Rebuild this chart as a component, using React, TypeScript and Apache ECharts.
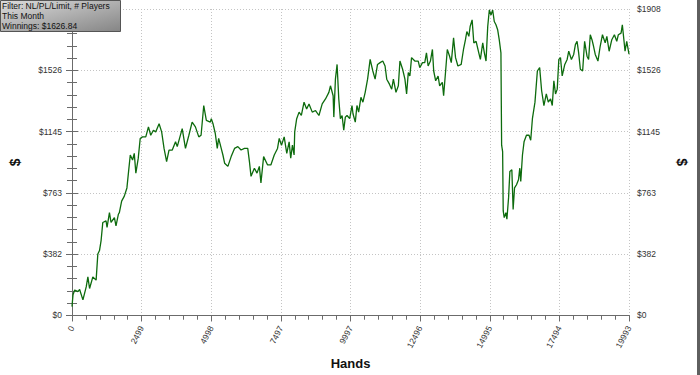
import React, { useEffect, useRef } from "react";
import * as echarts from "echarts";

const handsMax = 19993;
const dollarsMax = 1908;

const hands = [
  0, 36, 96, 214, 274, 392, 510, 570, 631, 748, 866, 927, 987, 1044, 1105, 1222, 1258, 1344, 1401, 1522,
  1579, 1664, 1700, 1782, 1878, 1971, 2031, 2092, 2174, 2235, 2292, 2377, 2448, 2530, 2648, 2744, 2826, 2922,
  3004, 3126, 3218, 3304, 3396, 3482, 3599, 3717, 3778, 3956, 4073, 4195, 4312, 4430, 4551, 4633, 4729, 4822,
  4964, 5000, 5061, 5143, 5214, 5264, 5356, 5417, 5478, 5595, 5713, 5834, 5952, 6069, 6190, 6308, 6369, 6426,
  6547, 6640, 6725, 6782, 6878, 7021, 7138, 7260, 7377, 7438, 7520, 7616, 7709, 7794, 7851, 7912, 7972, 7994,
  8065, 8151, 8232, 8329, 8422, 8507, 8624, 8742, 8863, 8981, 9099, 9220, 9277, 9373, 9398, 9455, 9515, 9576,
  9633, 9694, 9754, 9811, 9872, 9968, 10050, 10086, 10168, 10228, 10289, 10371, 10442, 10524, 10610, 10702,
  10798, 10880, 10966, 11059, 11155, 11237, 11297, 11394, 11475, 11536, 11629, 11714, 11771, 11867, 11950,
  12010, 12071, 12128, 12188, 12306, 12427, 12484, 12580, 12662, 12723, 12783, 12865, 12937, 12983, 13054,
  13140, 13197, 13293, 13339, 13411, 13471, 13553, 13614, 13696, 13767, 13852, 13970, 14052, 14123, 14173,
  14245, 14291, 14362, 14423, 14505, 14601, 14658, 14743, 14801, 14861, 14922, 14979, 15040, 15100, 15157,
  15218, 15278, 15335, 15396, 15421, 15457, 15478, 15514, 15574, 15610, 15670, 15717, 15788, 15834, 15884,
  15955, 16026, 16073, 16108, 16169, 16226, 16312, 16405, 16465, 16526, 16618, 16704, 16786, 16857, 16939,
  17025, 17096, 17178, 17239, 17296, 17356, 17417, 17474, 17534, 17595, 17688, 17773, 17830, 17926, 18008,
  18069, 18129, 18186, 18247, 18329, 18400, 18486, 18543, 18603, 18664, 18721, 18782, 18878, 18959, 19041,
  19138, 19198, 19280, 19376, 19469, 19554, 19611, 19708, 19754, 19815, 19851, 19911, 19993,
];

const winnings = [
  55, 129, 158, 148, 162, 97, 178, 240, 168, 240, 220, 383, 404, 466, 579, 589, 548, 640, 579, 609,
  558, 630, 640, 712, 743, 794, 897, 999, 968, 1009, 886, 978, 1102, 1112, 1112, 1174, 1122, 1153,
  1143, 1194, 1143, 1040, 958, 1030, 1030, 1081, 1051, 1163, 1040, 1122, 1204, 1174, 1112, 1122, 1307, 1214,
  1204, 1225, 1194, 1133, 1040, 1102, 1040, 999, 948, 928, 989, 1040, 1051, 1030, 1040, 1040, 958, 866,
  917, 886, 928, 825, 989, 937, 937, 999, 1040, 1102, 1060, 1112, 1009, 1081, 979, 1060, 999, 1143,
  1225, 1266, 1245, 1328, 1286, 1317, 1266, 1276, 1245, 1317, 1348, 1389, 1430, 1368, 1235, 1471, 1563, 1348,
  1225, 1245, 1153, 1235, 1245, 1225, 1307, 1256, 1204, 1307, 1266, 1358, 1328, 1389, 1471, 1594,
  1522, 1471, 1563, 1574, 1584, 1553, 1471, 1440, 1409, 1471, 1389, 1430, 1584, 1533, 1471,
  1379, 1512, 1491, 1605, 1584, 1584, 1543, 1574, 1574, 1635, 1553, 1584, 1656, 1522, 1461,
  1491, 1430, 1451, 1368, 1522, 1656, 1614, 1574, 1728, 1605, 1553, 1563, 1656, 1717, 1768,
  1738, 1799, 1840, 1697, 1707, 1635, 1594, 1697, 1635, 1584, 1799, 1902, 1871, 1902, 1830,
  1810, 1779, 1717, 1635, 1060, 1020, 651, 609, 640, 599, 732, 897, 907, 660, 794,
  814, 845, 917, 835, 999, 1081, 1122, 1122, 1091, 1225, 1328, 1522, 1543, 1399, 1307,
  1379, 1328, 1348, 1307, 1461, 1379, 1409, 1594, 1605, 1491, 1563, 1594, 1645, 1594, 1625,
  1686, 1707, 1635, 1533, 1522, 1707, 1614, 1594, 1748, 1717, 1676, 1625, 1584, 1676, 1748,
  1697, 1738, 1645, 1717, 1748, 1707, 1748, 1758, 1810, 1707, 1645, 1707, 1626.84,
];

const infoLines = ["Filter: NL/PL/Limit, # Players", "This Month", "Winnings: $1626.84"];
const xName = "Hands";
const yName = "$";

const FONT = "'Liberation Sans', Arial, sans-serif";

export default function App() {
  const ref = useRef<HTMLDivElement>(null);

  useEffect(() => {
    if (!ref.current) return;
    const chart = echarts.init(ref.current, undefined, { renderer: "svg" });
    const data = hands.map((h, i) => [h, winnings[i]]);
    const xInterval = handsMax / 8;
    const yInterval = dollarsMax / 5;
    const axisLineColor = "#6b6b6b";
    const gridLine = { show: true, lineStyle: { color: "#c4c4c4", type: [1, 2] as any, width: 1 } };

    const infoTexts = infoLines.map((t, i) => ({
      type: "text",
      left: 2,
      top: 1 + i * 10,
      style: { text: t, fontFamily: FONT, fontSize: 8.5, fill: "#111" },
      z: 101,
    }));

    chart.setOption({
      animation: false,
      backgroundColor: "#ffffff",
      grid: { left: 68, right: 71, top: 9, bottom: 56, containLabel: false },
      xAxis: [
        {
          type: "value",
          position: "bottom",
          min: 0,
          max: handsMax,
          interval: xInterval,
          name: xName,
          nameLocation: "middle",
          nameGap: 41,
          nameTextStyle: { fontFamily: FONT, fontSize: 13, fontWeight: "bold", color: "#111" },
          axisLine: { show: true, lineStyle: { color: axisLineColor, width: 1 } },
          axisTick: { show: true, inside: false, length: 6, lineStyle: { color: axisLineColor } },
          minorTick: { show: true, splitNumber: 5, length: 4, lineStyle: { color: axisLineColor } },
          axisLabel: {
            show: true,
            rotate: 62,
            margin: 11,
            fontFamily: FONT,
            fontSize: 8.5,
            color: "#333",
            showMinLabel: true,
            showMaxLabel: true,
            formatter: (v: number) => String(Math.round(v)),
          },
          splitLine: gridLine,
        },
        {
          type: "value",
          position: "top",
          min: 0,
          max: handsMax,
          interval: xInterval,
          axisLine: { show: true, lineStyle: { color: axisLineColor, width: 1 } },
          axisTick: { show: true, inside: true, length: 4, lineStyle: { color: axisLineColor } },
          minorTick: { show: true, splitNumber: 5, length: 4, lineStyle: { color: axisLineColor } },
          axisLabel: { show: false },
          splitLine: { show: false },
        },
      ],
      yAxis: [
        {
          type: "value",
          position: "left",
          min: 0,
          max: dollarsMax,
          interval: yInterval,
          name: yName,
          nameLocation: "middle",
          nameGap: 50,
          nameRotate: 90,
          nameTextStyle: { fontFamily: FONT, fontSize: 14, fontWeight: "bold", color: "#111" },
          axisLine: { show: true, lineStyle: { color: axisLineColor, width: 1 } },
          axisTick: { show: true, inside: false, length: 6, lineStyle: { color: axisLineColor } },
          minorTick: { show: true, splitNumber: 5, length: 5, lineStyle: { color: axisLineColor } },
          axisLabel: {
            show: true,
            margin: 10,
            fontFamily: FONT,
            fontSize: 8.5,
            color: "#333",
            showMaxLabel: false,
            formatter: (v: number) => (v >= dollarsMax ? "" : "$" + Math.round(v)),
          },
          splitLine: gridLine,
        },
        {
          type: "value",
          position: "right",
          min: 0,
          max: dollarsMax,
          interval: yInterval,
          name: yName,
          nameLocation: "middle",
          nameGap: 46,
          nameRotate: -90,
          nameTextStyle: { fontFamily: FONT, fontSize: 14, fontWeight: "bold", color: "#111" },
          axisLine: { show: true, lineStyle: { color: axisLineColor, width: 1 } },
          axisTick: { show: true, inside: false, length: 6, lineStyle: { color: axisLineColor } },
          minorTick: { show: true, splitNumber: 5, length: 5, lineStyle: { color: axisLineColor } },
          axisLabel: {
            show: true,
            margin: 8,
            fontFamily: FONT,
            fontSize: 8.5,
            color: "#333",
            formatter: (v: number) => "$" + Math.round(v),
          },
          splitLine: { show: false },
        },
      ],
      series: [
        {
          type: "line",
          xAxisIndex: 0,
          yAxisIndex: 0,
          data,
          showSymbol: false,
          symbol: "none",
          lineStyle: { color: "#0d6b0d", width: 1.3 },
          z: 5,
        },
      ],
      graphic: [
        {
          type: "rect",
          left: 0,
          top: 0,
          shape: { x: 0, y: 0, width: 120, height: 31 },
          style: {
            fill: new echarts.graphic.LinearGradient(0, 0, 1, 1, [
              { offset: 0, color: "#dcdcdc" },
              { offset: 1, color: "#858585" },
            ]),
            stroke: "#555",
            lineWidth: 1,
          },
          z: 100,
        },
        ...infoTexts,
        {
          type: "rect",
          right: 0,
          top: 0,
          shape: { x: 0, y: 0, width: 3, height: 375 },
          style: { fill: "#5f5f5f" },
          z: 100,
        },
      ],
    });

    return () => chart.dispose();
  }, []);

  return (
    <div
      ref={ref}
      style={{ position: "absolute", left: 0, top: 0, width: 700, height: 375, background: "#fff" }}
    />
  );
}
